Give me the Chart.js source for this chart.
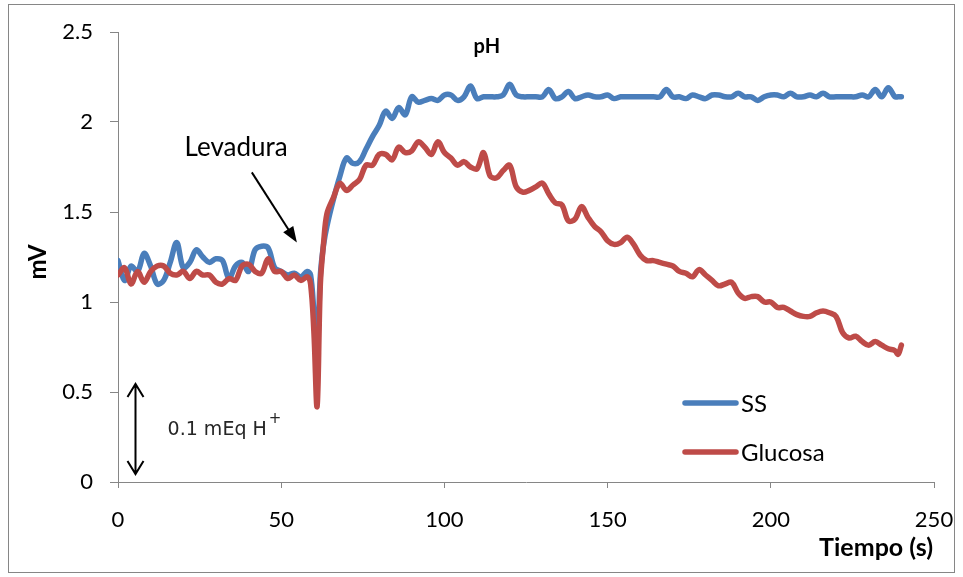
<!DOCTYPE html>
<html>
<head>
<meta charset="utf-8">
<script src="https://cdn.jsdelivr.net/npm/chart.js@4/dist/chart.umd.min.js"></script>
<style>
  html, body { margin: 0; padding: 0; background: #fff; }
  #wrap { width: 963px; height: 577px; position: relative; }
</style>
</head>
<body>
<div id="wrap"><canvas id="phChart"></canvas></div>
<script>
// --- Data ---
const tiempo = [
  0, 2, 4, 6, 8, 10, 12, 14, 16, 18, 20, 22, 24, 26, 28, 30, 32, 34, 36, 38, 40,
  42, 44, 46, 48, 50, 52, 54, 56, 58, 59, 60, 61, 62, 63, 64, 66, 68, 70, 72, 74,
  76, 78, 80, 82, 84, 86, 88, 90, 92, 94, 96, 98, 100, 102, 104, 106, 108, 110,
  112, 114, 116, 118, 120, 122, 124, 126, 128, 130, 132, 134, 136, 138, 140, 142,
  144, 146, 148, 150, 152, 154, 156, 158, 160, 162, 164, 166, 168, 170, 172, 174,
  176, 178, 180, 182, 184, 186, 188, 190, 192, 194, 196, 198, 200, 202, 204, 206,
  208, 210, 212, 214, 216, 218, 220, 222, 224, 226, 228, 230, 232, 234, 236, 238,
  239, 240
];

const ss = [
  1.23, 1.12, 1.20, 1.17, 1.27, 1.20, 1.10, 1.12, 1.22, 1.33, 1.19, 1.22, 1.29, 1.25, 1.22, 1.24, 1.23, 1.13, 1.20, 1.22, 1.17,
  1.29, 1.31, 1.30, 1.19, 1.17, 1.15, 1.16, 1.14, 1.17, 1.15, 0.95, 0.72, 1.15, 1.32, 1.42, 1.57, 1.70, 1.80, 1.77, 1.78,
  1.85, 1.92, 1.98, 2.06, 2.02, 2.08, 2.04, 2.14, 2.11, 2.12, 2.13, 2.12, 2.15, 2.15, 2.12, 2.14, 2.20, 2.13,
  2.14, 2.14, 2.14, 2.15, 2.21, 2.15, 2.14, 2.14, 2.14, 2.14, 2.18, 2.13, 2.14, 2.17, 2.13, 2.14,
  2.15, 2.14, 2.14, 2.15, 2.13, 2.14, 2.14, 2.14, 2.14, 2.14, 2.14, 2.14, 2.18, 2.14, 2.14, 2.13,
  2.15, 2.14, 2.13, 2.15, 2.15, 2.14, 2.14, 2.16, 2.14, 2.14, 2.12, 2.14, 2.15, 2.15, 2.14, 2.16,
  2.14, 2.14, 2.15, 2.14, 2.16, 2.14, 2.14, 2.14, 2.14, 2.14, 2.15, 2.14, 2.18, 2.14, 2.19, 2.14,
  2.14, 2.14
];

const glucosa = [
  1.15, 1.19, 1.10, 1.17, 1.11, 1.17, 1.20, 1.20, 1.16, 1.15, 1.17, 1.13, 1.17, 1.15, 1.15, 1.11, 1.10, 1.13, 1.12, 1.20, 1.21,
  1.17, 1.16, 1.24, 1.17, 1.17, 1.13, 1.15, 1.12, 1.14, 1.10, 0.84, 0.42, 1.10, 1.33, 1.49, 1.58, 1.66, 1.62, 1.65, 1.68,
  1.76, 1.76, 1.82, 1.82, 1.79, 1.86, 1.83, 1.84, 1.89, 1.86, 1.82, 1.89, 1.83, 1.80, 1.76, 1.78, 1.75, 1.74,
  1.83, 1.70, 1.69, 1.73, 1.76, 1.64, 1.61, 1.62, 1.64, 1.66, 1.60, 1.55, 1.54, 1.45, 1.46, 1.53,
  1.47, 1.42, 1.39, 1.34, 1.32, 1.33, 1.36, 1.32, 1.26, 1.23, 1.23, 1.22, 1.21, 1.20, 1.17, 1.16,
  1.14, 1.18, 1.15, 1.12, 1.09, 1.10, 1.11, 1.05, 1.02, 1.03, 1.03, 1.00, 1.00, 0.97, 0.97, 0.95,
  0.93, 0.92, 0.92, 0.94, 0.95, 0.94, 0.92, 0.83, 0.80, 0.81, 0.78, 0.76, 0.78, 0.76, 0.74, 0.73,
  0.71, 0.76
];

const xTicks = [0, 50, 100, 150, 200, 250];
const yTicks = [0, 0.5, 1, 1.5, 2, 2.5];

const AXIS_GREY = '#868686';
const FONT = 'Lato, "Open Sans", sans-serif';

// --- Annotations drawn on top ---
const annotations = {
  id: 'annotations',
  afterDraw(chart) {
    const { ctx, chartArea, scales: { x, y } } = chart;
    ctx.save();

    // outer frame
    ctx.strokeStyle = AXIS_GREY;
    ctx.lineWidth = 1;
    ctx.strokeRect(8.5, 4.5, 946, 568);

    ctx.fillStyle = '#000';
    ctx.textBaseline = 'middle';

    // title
    ctx.font = 'bold 20px ' + FONT;
    ctx.textAlign = 'center';
    ctx.fillText('pH', x.getPixelForValue(113), y.getPixelForValue(2.42));

    // y title
    ctx.save();
    ctx.translate(38, 262);
    ctx.rotate(-Math.PI / 2);
    ctx.font = 'bold 24px ' + FONT;
    ctx.fillText('mV', 0, 0);
    ctx.restore();

    // x title
    ctx.font = 'bold 25px ' + FONT;
    ctx.textAlign = 'right';
    ctx.fillText('Tiempo (s)', chartArea.right - 1, 548);

    // Levadura + arrow
    ctx.font = '26px ' + FONT;
    ctx.textAlign = 'center';
    ctx.fillText('Levadura', x.getPixelForValue(36.2), y.getPixelForValue(1.86));
    const ax0 = x.getPixelForValue(41), ay0 = y.getPixelForValue(1.72);
    const ax1 = x.getPixelForValue(54.8), ay1 = y.getPixelForValue(1.33);
    const ang = Math.atan2(ay1 - ay0, ax1 - ax0);
    ctx.strokeStyle = '#000';
    ctx.lineWidth = 2;
    ctx.beginPath();
    ctx.moveTo(ax0, ay0);
    ctx.lineTo(ax1 - 10 * Math.cos(ang), ay1 - 10 * Math.sin(ang));
    ctx.stroke();
    ctx.beginPath();
    ctx.moveTo(ax1, ay1);
    ctx.lineTo(ax1 - 16 * Math.cos(ang) + 6 * Math.sin(ang), ay1 - 16 * Math.sin(ang) - 6 * Math.cos(ang));
    ctx.lineTo(ax1 - 16 * Math.cos(ang) - 6 * Math.sin(ang), ay1 - 16 * Math.sin(ang) + 6 * Math.cos(ang));
    ctx.closePath();
    ctx.fill();

    // double arrow 0.1 mEq H+
    const dx = Math.round(x.getPixelForValue(5.2)) + 0.5;
    const dTop = y.getPixelForValue(0.545), dBot = y.getPixelForValue(0.044);
    ctx.lineWidth = 2;
    ctx.beginPath();
    ctx.moveTo(dx, dTop); ctx.lineTo(dx, dBot);
    ctx.moveTo(dx - 8, dTop + 13); ctx.lineTo(dx, dTop); ctx.lineTo(dx + 8, dTop + 13);
    ctx.moveTo(dx - 8, dBot - 13); ctx.lineTo(dx, dBot); ctx.lineTo(dx + 8, dBot - 13);
    ctx.stroke();

    ctx.fillStyle = '#262626';
    ctx.textAlign = 'left';
    ctx.font = '19px "DejaVu Sans", sans-serif';
    const tx = x.getPixelForValue(15.2), ty = y.getPixelForValue(0.29);
    ctx.fillText('0.1 mEq H', tx, ty);
    const w = ctx.measureText('0.1 mEq H').width;
    ctx.font = '15px "DejaVu Sans", sans-serif';
    ctx.fillText('+', tx + w + 2, ty - 11);

    // legend
    const legend = [['SS', '#4A7EBB', 403], ['Glucosa', '#BE4B48', 452]];
    ctx.font = '24px ' + FONT;
    ctx.lineCap = 'round';
    legend.forEach(([label, color, ly]) => {
      ctx.strokeStyle = color;
      ctx.lineWidth = 5.5;
      ctx.beginPath();
      ctx.moveTo(685, ly); ctx.lineTo(736, ly);
      ctx.stroke();
      ctx.fillStyle = '#000';
      ctx.fillText(label, 741, ly + 1);
    });

    ctx.restore();
  }
};

const toPoints = vals => tiempo.map((t, i) => ({ x: t, y: vals[i] }));

new Chart(document.getElementById('phChart'), {
  type: 'line',
  data: {
    datasets: [
      {
        label: 'SS',
        data: toPoints(ss),
        borderColor: '#4A7EBB',
        borderWidth: 5.5,
        pointRadius: 0,
        tension: 0.35,
        borderJoinStyle: 'round',
        borderCapStyle: 'round',
        order: 2
      },
      {
        label: 'Glucosa',
        data: toPoints(glucosa),
        borderColor: '#BE4B48',
        borderWidth: 5.5,
        pointRadius: 0,
        tension: 0.35,
        borderJoinStyle: 'round',
        borderCapStyle: 'round',
        order: 1
      }
    ]
  },
  options: {
    responsive: true,
    maintainAspectRatio: false,
    animation: false,
    layout: { padding: { left: 0, right: 29, top: 32, bottom: 0 } },
    plugins: {
      legend: { display: false },
      title: { display: false },
      tooltip: { enabled: false }
    },
    scales: {
      x: {
        type: 'linear',
        min: 0,
        max: 250,
        afterBuildTicks: axis => { axis.ticks = xTicks.map(v => ({ value: v })); },
        afterFit: axis => { axis.height = 95; axis.paddingLeft = 0; axis.paddingRight = 0; },
        border: { color: AXIS_GREY, width: 1 },
        grid: { drawOnChartArea: false, drawTicks: true, tickLength: 6, color: AXIS_GREY },
        ticks: { color: '#000', font: { family: FONT, size: 22 }, padding: 19, maxRotation: 0 }
      },
      y: {
        min: 0,
        max: 2.5,
        afterBuildTicks: axis => { axis.ticks = yTicks.map(v => ({ value: v })); },
        afterFit: axis => { axis.width = 118; axis.paddingTop = 0; axis.paddingBottom = 0; },
        border: { color: AXIS_GREY, width: 1 },
        grid: { drawOnChartArea: false, drawTicks: true, tickLength: 8, color: AXIS_GREY },
        ticks: {
          color: '#000', font: { family: FONT, size: 22 }, padding: 17,
          callback: v => String(v)
        }
      }
    }
  },
  plugins: [annotations]
});
</script>
</body>
</html>
